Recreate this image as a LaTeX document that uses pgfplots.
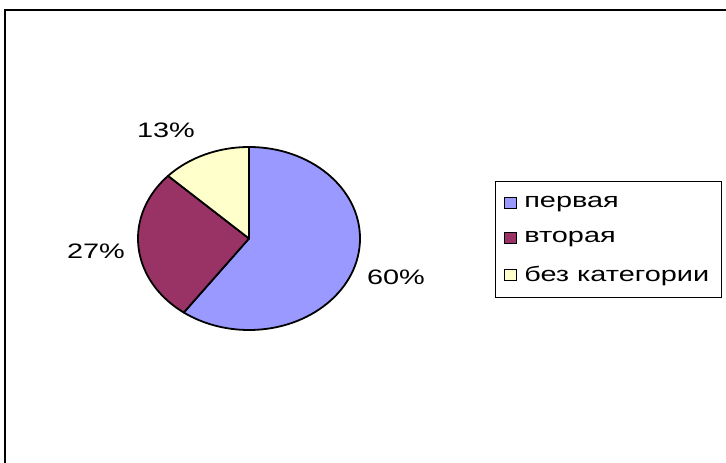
\documentclass[border=0pt]{standalone}
\usepackage{pgfplots}
\usepackage{pgfplotstable}
\pgfplotsset{compat=1.18}
\usepackage{fontspec}
\setmainfont{Liberation Sans}[FakeStretch=1.38]

\definecolor{pieA}{HTML}{9999FF}
\definecolor{pieB}{HTML}{993366}
\definecolor{pieC}{HTML}{FFFFCC}

% share of each category, %
\pgfplotstableread{
value
60
27
13
}\piedata

\begin{document}
\begin{tikzpicture}
    % angles of the slice edges, clockwise from 12 o'clock
    \pgfplotstablegetelem{0}{value}\of\piedata \let\va\pgfplotsretval
    \pgfplotstablegetelem{1}{value}\of\piedata \let\vb\pgfplotsretval
    \pgfplotstablegetelem{2}{value}\of\piedata \let\vc\pgfplotsretval
    \pgfmathsetmacro\tot{\va+\vb+\vc}
    \pgfmathsetmacro\angA{90}
    \pgfmathsetmacro\angB{\angA-\va/\tot*360}
    \pgfmathsetmacro\angC{\angB-\vb/\tot*360}
    \pgfmathsetmacro\angD{\angC-\vc/\tot*360}
    \def\cx{249}\def\cy{224.5}
    \begin{axis}[
        scale only axis,
        width=726bp, height=463bp,
        xmin=0, xmax=726, ymin=0, ymax=463,
        hide axis,
        font=\fontsize{21}{25}\selectfont,
        legend cell align=left,
        legend image code/.code={
            \draw[#1, draw=black, line width=0.8pt] (0bp,-5.5bp) rectangle (12bp,5.5bp);},
        legend style={
            at={(axis cs:495,282)},
            anchor=north west,
            draw=black, line width=1pt,
            inner xsep=8bp, inner ysep=13bp,
            row sep=18bp,
            font=\fontsize{21}{25}\selectfont,
            nodes={inner xsep=4bp, inner ysep=2bp},
            /tikz/every odd column/.append style={column sep=4bp},
            }
        ]
    \addlegendimage{fill=pieA}
    \addlegendentry{первая}
    \addlegendimage{fill=pieB}
    \addlegendentry{вторая}
    \addlegendimage{fill=pieC}
    \addlegendentry{без категории}

    \filldraw[fill=pieA, draw=black, line width=1.8pt, line join=round]
        (axis cs:\cx,\cy) -- ++(\angA:111bp and 91.5bp)
        arc[start angle=\angA, end angle=\angB, x radius=111bp, y radius=91.5bp] -- cycle;
    \filldraw[fill=pieB, draw=black, line width=1.8pt, line join=round]
        (axis cs:\cx,\cy) -- ++(\angB:111bp and 91.5bp)
        arc[start angle=\angB, end angle=\angC, x radius=111bp, y radius=91.5bp] -- cycle;
    \filldraw[fill=pieC, draw=black, line width=1.8pt, line join=round]
        (axis cs:\cx,\cy) -- ++(\angC:111bp and 91.5bp)
        arc[start angle=\angC, end angle=\angD, x radius=111bp, y radius=91.5bp] -- cycle;

    \node at (axis cs:396,186) {60\%};
    \node at (axis cs:96,212) {27\%};
    \node at (axis cs:166,333) {13\%};

    % chart area frame, cut by the image edge
    \draw[line width=2bp] (axis cs:5,-10) -- (axis cs:5,452.7) -- (axis cs:740,452.7);
    \end{axis}
    \pgfresetboundingbox
    \useasboundingbox (0,0) rectangle (726bp,463bp);
\end{tikzpicture}
\end{document}
